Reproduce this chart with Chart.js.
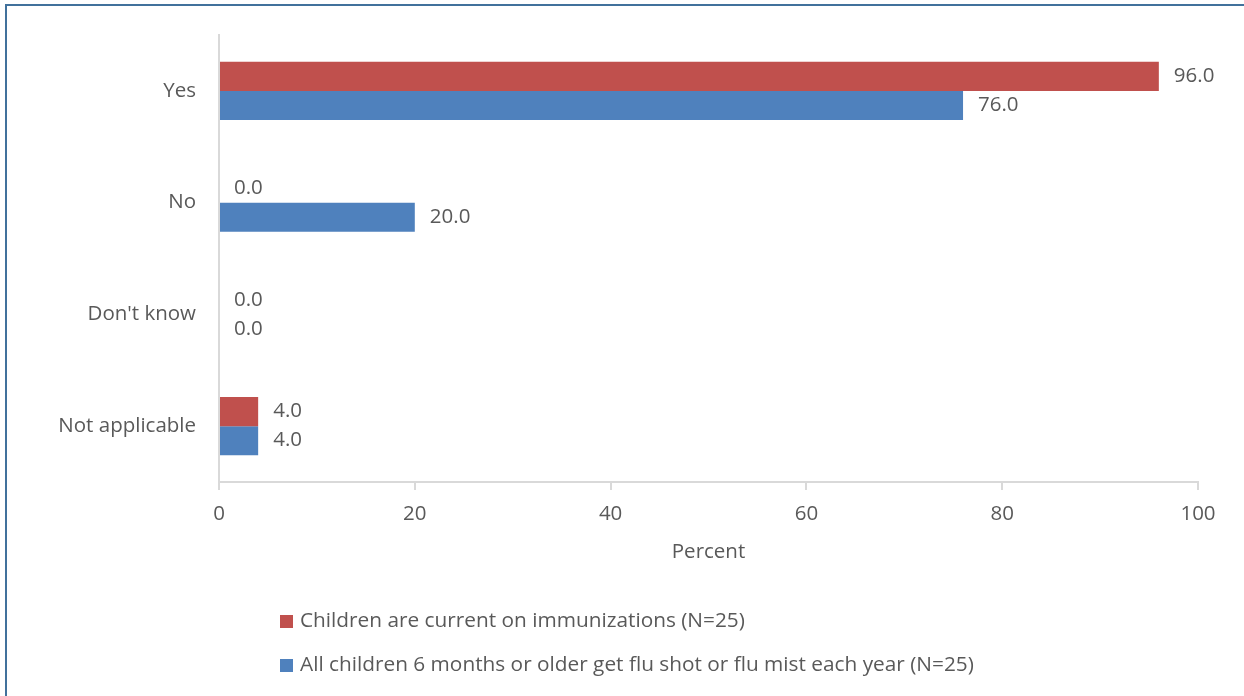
<!DOCTYPE html>
<html>
<head>
<meta charset="utf-8">
<script src="https://cdn.jsdelivr.net/npm/chart.js@4"></script>
<style>
  body { margin: 0; background: #fff; overflow: hidden; }
  #frame { position: absolute; left: 5px; top: 4px; width: 1245px; height: 700px; border: 2px solid #41719C; box-sizing: border-box; }
  #wrap { position: absolute; left: 0; top: 0; width: 1244px; height: 696px; }
  #legend { position: absolute; left: 280px; top: 602px; font-family: "Open Sans", sans-serif; font-size: 20.8px; color: #595959; }
  #legend div { height: 44px; line-height: 34px; white-space: nowrap; }
  #legend span.box { display: inline-block; width: 13px; height: 13px; margin-right: 7px; vertical-align: -1px; }
</style>
</head>
<body>
<div id="frame"></div>
<div id="wrap"><canvas id="chart" width="1244" height="696"></canvas></div>
<div id="legend"></div>
<script>
// categories and values
const categories = ["Yes", "No", "Don't know", "Not applicable"];
const immunizations = [96.0, 0.0, 0.0, 4.0];
const fluShot = [76.0, 20.0, 0.0, 4.0];
const seriesNames = [
  "Children are current on immunizations (N=25)",
  "All children 6 months or older get flu shot or flu mist each year (N=25)"
];
const seriesColors = ["#C0504D", "#4F81BD"];
const xTicks = [0, 20, 40, 60, 80, 100];

const FONT = "'Open Sans', sans-serif";
const SIZE = 20.5;
const TEXT = "#595959";
const AXIS = "#D9D9D9";

// draws value labels just past the end of each bar
const valueLabels = {
  id: "valueLabels",
  afterDatasetsDraw(chart) {
    const ctx = chart.ctx;
    ctx.save();
    ctx.font = SIZE + "px " + FONT;
    ctx.fillStyle = TEXT;
    ctx.textBaseline = "middle";
    ctx.textAlign = "left";
    chart.data.datasets.forEach((ds, i) => {
      chart.getDatasetMeta(i).data.forEach((bar, j) => {
        ctx.fillText(ds.data[j].toFixed(1), bar.x + 15, bar.y);
      });
    });
    ctx.restore();
  }
};

new Chart(document.getElementById("chart"), {
  type: "bar",
  data: {
    labels: categories,
    datasets: [
      { label: seriesNames[0], data: immunizations, backgroundColor: seriesColors[0] },
      { label: seriesNames[1], data: fluShot, backgroundColor: seriesColors[1] }
    ]
  },
  options: {
    indexAxis: "y",
    responsive: false,
    animation: false,
    datasets: { bar: { categoryPercentage: 0.52, barPercentage: 1 } },
    layout: { padding: { left: 0, top: 35, right: 46, bottom: 124 } },
    scales: {
      x: {
        min: 0,
        max: 100,
        afterBuildTicks: (scale) => { scale.ticks = xTicks.map((v) => ({ value: v })); },
        afterFit: (scale) => { scale.height = 90; },
        grid: { drawOnChartArea: false, color: AXIS, tickLength: 8, lineWidth: 2 },
        border: { color: AXIS, width: 2 },
        ticks: { color: TEXT, font: { family: FONT, size: SIZE }, padding: 12 },
        title: { display: true, text: "Percent", color: TEXT, font: { family: FONT, size: SIZE }, padding: { top: 0, bottom: 8 } }
      },
      y: {
        afterFit: (scale) => { scale.width = 219; },
        grid: { display: false },
        border: { color: AXIS, width: 2 },
        ticks: { color: TEXT, font: { family: FONT, size: SIZE }, padding: 15 }
      }
    },
    plugins: {
      legend: { display: false },
      tooltip: { enabled: false }
    }
  },
  plugins: [valueLabels]
});

// legend as a vertical list, one series per row
const legend = document.getElementById("legend");
seriesNames.forEach((name, i) => {
  const row = document.createElement("div");
  const box = document.createElement("span");
  box.className = "box";
  box.style.background = seriesColors[i];
  row.appendChild(box);
  row.appendChild(document.createTextNode(name));
  legend.appendChild(row);
});
</script>
</body>
</html>
